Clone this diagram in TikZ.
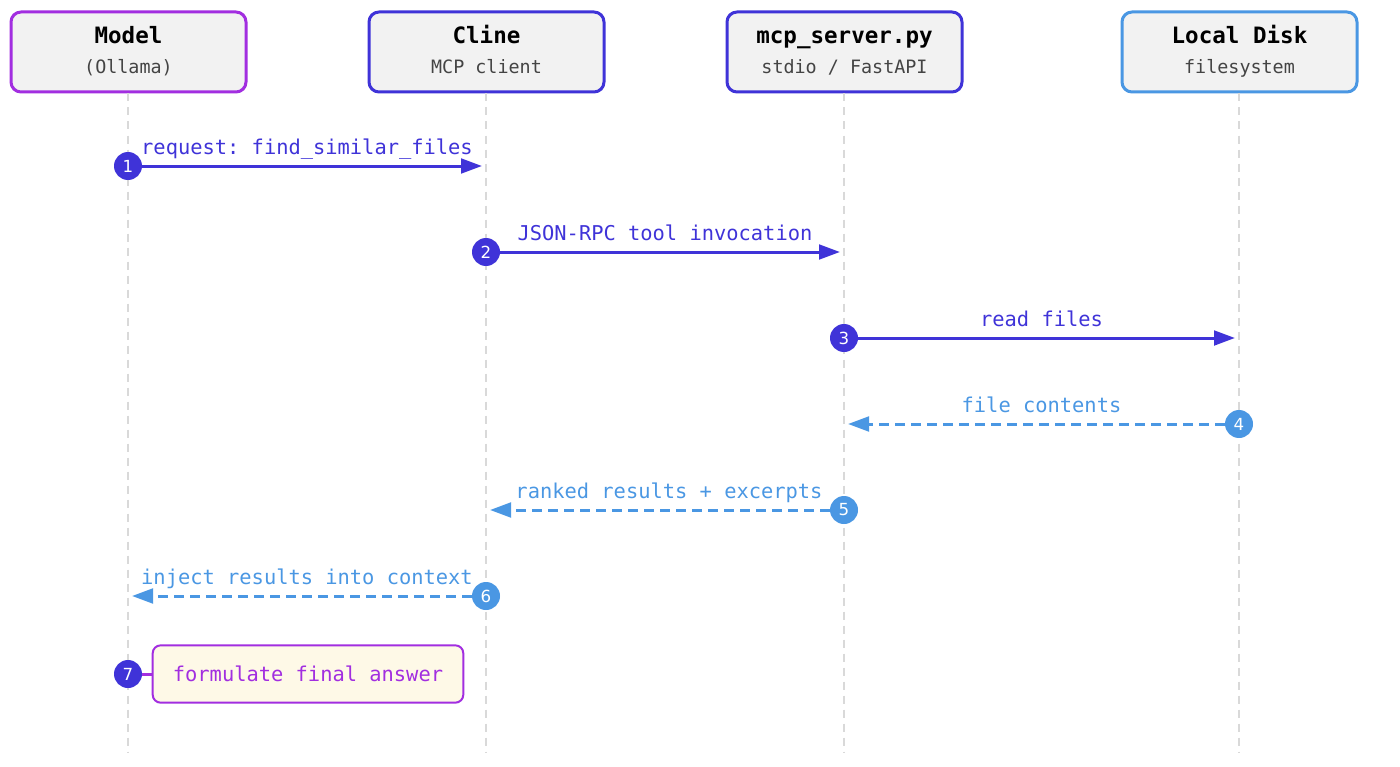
\documentclass[tikz,border=0pt]{standalone}
\usepackage{fontspec}
\setmainfont{DejaVu Sans}
\setmonofont{DejaVu Sans Mono}
\newfontfamily\numfont{DejaVu Sans}
\usetikzlibrary{arrows.meta,calc}
\definecolor{indig}{HTML}{3F33D8}
\definecolor{lblue}{HTML}{4A97E3}
\definecolor{purp}{HTML}{A22EE0}
\definecolor{boxfill}{HTML}{F2F2F2}
\definecolor{cream}{HTML}{FEF9E7}
\definecolor{lifegray}{HTML}{D9D9D9}
\definecolor{subgray}{HTML}{444444}
\tikzset{
  actor/.style={draw=#1, line width=2.25pt, fill=boxfill, rounded corners=7.5pt,
    minimum width=176.25pt, minimum height=60pt, inner sep=0pt},
  ttitle/.style={anchor=base, font=\ttfamily\bfseries\fontsize{16.9}{19}\selectfont, text=black},
  tsub/.style={anchor=base, font=\ttfamily\fontsize{13.8}{16}\selectfont, text=subgray},
  life/.style={draw=lifegray, line width=1.9pt, dash pattern=on 6pt off 4.5pt},
  num/.style={circle, fill=#1, minimum size=21pt, inner sep=0pt, text=white,
    font=\numfont\fontsize{12.5}{14}\selectfont},
  msg/.style={draw=#1, line width=2.25pt, -{Triangle[length=15.75pt, width=11pt]}},
  rmsg/.style={draw=#1, line width=2.25pt, dash pattern=on 7.5pt off 4.5pt,
    -{Triangle[length=15.75pt, width=11pt]}},
  mlabel/.style={anchor=base, text=#1, font=\ttfamily\fontsize{15.3}{18}\selectfont},
  note/.style={draw=purp, line width=1.5pt, fill=cream, rounded corners=6pt,
    minimum width=233pt, minimum height=43pt, inner sep=0pt, text=purp,
    font=\ttfamily\fontsize{15.3}{18}\selectfont},
}
\begin{document}
\begin{tikzpicture}[x=0.75pt, y=-0.75pt]
\useasboundingbox (0,0) rectangle (1400,767);
% actors
\node[actor=purp] (mo) at (128.5,52) {};
\node[actor=indig] (cl) at (486.5,52) {};
\node[actor=indig] (ms) at (844.5,52) {};
\node[actor=lblue] (ld) at (1239.5,52) {};
\node[ttitle] (mot) at (128.5,44) {Model};
\node[tsub] (mos) at (128.5,74) {(Ollama)};
\node[ttitle] (clt) at (486.5,44) {Cline};
\node[tsub] (cls) at (486.5,74) {MCP client};
\node[ttitle] (mst) at (844.5,44) {mcp\_server.py};
\node[tsub] (mss) at (844.5,74) {stdio / FastAPI};
\node[ttitle] (ldt) at (1239.5,44) {Local Disk};
\node[tsub] (lds) at (1239.5,74) {filesystem};
% lifeline ends
\coordinate (moE) at (128,752);
\coordinate (clE) at (486,752);
\coordinate (msE) at (844,752);
\coordinate (ldE) at (1239,752);
\draw[life] (mo.south -| moE) -- (moE);
\draw[life] (cl.south -| clE) -- (clE);
\draw[life] (ms.south -| msE) -- (msE);
\draw[life] (ld.south -| ldE) -- (ldE);
% messages
\node[num=indig] (n1) at (128,166) {1};
\coordinate (t1) at (482,166);
\draw[msg=indig] (n1) -- (t1);
\node[mlabel=indig] (l1) at (307,154) {request: find\_similar\_files};

\node[num=indig] (n2) at (486,252) {2};
\coordinate (t2) at (840,252);
\draw[msg=indig] (n2) -- (t2);
\node[mlabel=indig] (l2) at (665,240) {JSON-RPC tool invocation};

\node[num=indig] (n3) at (844,338) {3};
\coordinate (t3) at (1235,338);
\draw[msg=indig] (n3) -- (t3);
\node[mlabel=indig] (l3) at (1041.5,326) {read files};

\node[num=lblue] (n4) at (1239,424) {4};
\coordinate (t4) at (848,424);
\draw[rmsg=lblue] (n4) -- (t4);
\node[mlabel=lblue] (l4) at (1041.5,412) {file contents};

\node[num=lblue] (n5) at (844,510) {5};
\coordinate (t5) at (490,510);
\draw[rmsg=lblue] (n5) -- (t5);
\node[mlabel=lblue] (l5) at (669,498) {ranked results + excerpts};

\node[num=lblue] (n6) at (486,596) {6};
\coordinate (t6) at (132,596);
\draw[rmsg=lblue] (n6) -- (t6);
\node[mlabel=lblue] (l6) at (307,584) {inject results into context};

% self note
\node[note] (fa) at (308,674) {formulate final answer};
\node[num=indig] (n7) at (128,674) {7};
\draw[draw=purp, line width=2.25pt] (n7) -- (fa);
\end{tikzpicture}
\end{document}
